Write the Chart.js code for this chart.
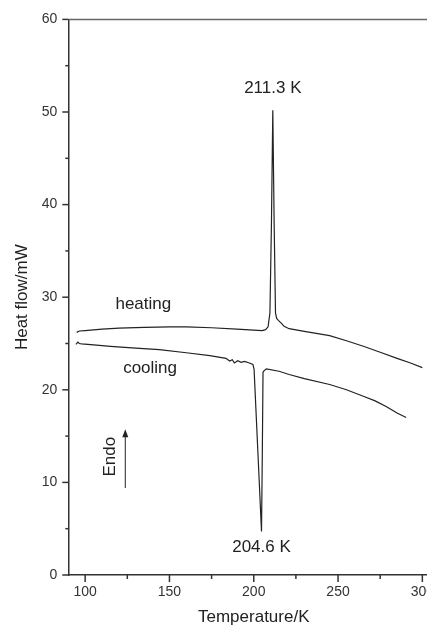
<!DOCTYPE html>
<html>
<head>
<meta charset="utf-8">
<script src="https://cdn.jsdelivr.net/npm/chart.js@4.4.1/dist/chart.umd.min.js"></script>
<style>
  html, body { margin: 0; padding: 0; background: #fff; overflow: hidden; }
</style>
</head>
<body>
<canvas id="dscChart" width="460" height="626"></canvas>
<script>
// DSC scans: heat flow (mW) vs temperature (K)
const heatingT = [95.0, 96.5, 100, 110, 120, 135, 150, 160, 175, 190, 200, 205, 207, 208.5, 209.6, 210.5, 211.3, 212.1, 212.9, 213.6, 214.6, 216.3, 218, 221, 230, 245, 255, 265, 275, 285, 293, 300];
const heatingFlow = [26.2, 26.35, 26.4, 26.55, 26.65, 26.75, 26.8, 26.8, 26.7, 26.55, 26.45, 26.4, 26.5, 26.8, 28.3, 38, 50.2, 38, 28.3, 27.7, 27.5, 27.2, 26.85, 26.6, 26.3, 25.85, 25.3, 24.7, 24.05, 23.4, 22.9, 22.4];

const coolingT = [94.5, 95.7, 96.5, 98, 105, 115, 130, 144, 160, 174, 183.5, 185.7, 187.3, 188.5, 190.5, 192.5, 194.5, 197.4, 199.5, 200.2, 202.4, 204.6, 205.1, 205.5, 206.3, 207.5, 215, 221, 230, 245, 255, 265, 272, 278.5, 285, 290.4];
const coolingFlow = [24.9, 25.15, 25.0, 24.95, 24.85, 24.7, 24.5, 24.33, 24.0, 23.7, 23.4, 23.1, 23.25, 22.9, 23.15, 22.97, 23.07, 22.9, 22.75, 22.2, 13.5, 4.7, 13.5, 21.9, 22.1, 22.25, 22.0, 21.65, 21.2, 20.57, 20.0, 19.3, 18.8, 18.2, 17.5, 17.0];

const tempTicks = [100, 150, 200, 250, 300];
const tempMinorTicks = [125, 175, 225, 275];
const flowTicks = [0, 10, 20, 30, 40, 50, 60];
const flowMinorTicks = [5, 15, 25, 35, 45, 55];

const FONT = '"Liberation Sans", Arial, sans-serif';

function toPoints(xs, ys) {
  return xs.map((v, i) => ({ x: v, y: ys[i] }));
}

// extremum of a scan -> its temperature
function peakOf(xs, ys, cmp) {
  let k = 0;
  ys.forEach((v, i) => { if (cmp(v, ys[k])) k = i; });
  return { t: xs[k], v: ys[k] };
}

const heatPeak = peakOf(heatingT, heatingFlow, (a, b) => a > b);
const coolPeak = peakOf(coolingT, coolingFlow, (a, b) => a < b);

const dscDecor = {
  id: 'dscDecor',
  afterDraw(chart) {
    const { ctx, chartArea: a, scales: { x, y } } = chart;
    ctx.save();

    // top frame
    ctx.strokeStyle = '#666';
    ctx.lineWidth = 1.5;
    ctx.beginPath();
    ctx.moveTo(a.left, a.top);
    ctx.lineTo(a.right, a.top);
    ctx.stroke();

    // tick marks, outside the axes
    ctx.strokeStyle = '#333';
    ctx.lineWidth = 1.5;
    const seg = (x1, y1, x2, y2) => {
      ctx.beginPath(); ctx.moveTo(x1, y1); ctx.lineTo(x2, y2); ctx.stroke();
    };
    tempTicks.forEach(v => { const px = x.getPixelForValue(v); seg(px, a.bottom, px, a.bottom + 7); });
    tempMinorTicks.forEach(v => { const px = x.getPixelForValue(v); seg(px, a.bottom, px, a.bottom + 4); });
    flowTicks.forEach(v => { const py = y.getPixelForValue(v); seg(a.left - 6, py, a.left, py); });
    flowMinorTicks.forEach(v => { const py = y.getPixelForValue(v); seg(a.left - 3, py, a.left, py); });

    // curve labels
    ctx.fillStyle = '#222';
    ctx.font = '17px ' + FONT;
    ctx.textAlign = 'center';
    ctx.textBaseline = 'middle';
    ctx.fillText('heating', x.getPixelForValue(134.5), y.getPixelForValue(29.2));
    ctx.fillText('cooling', x.getPixelForValue(138.5), y.getPixelForValue(22.35));
    ctx.fillText(heatPeak.t.toFixed(1) + ' K', x.getPixelForValue(heatPeak.t), y.getPixelForValue(52.6));
    ctx.fillText(coolPeak.t.toFixed(1) + ' K', x.getPixelForValue(coolPeak.t), y.getPixelForValue(3.0));

    // "Endo" with upward arrow
    ctx.save();
    ctx.translate(x.getPixelForValue(114.8), y.getPixelForValue(12.77));
    ctx.rotate(-Math.PI / 2);
    ctx.fillText('Endo', 0, 0);
    ctx.restore();

    const ax = x.getPixelForValue(123.8);
    const yTail = y.getPixelForValue(9.4);
    const yTip = y.getPixelForValue(15.75);
    ctx.strokeStyle = '#222';
    ctx.lineWidth = 1;
    seg(ax, yTail, ax, yTip + 6);
    ctx.beginPath();
    ctx.moveTo(ax, yTip);
    ctx.lineTo(ax - 3, yTip + 8);
    ctx.lineTo(ax + 3, yTip + 8);
    ctx.closePath();
    ctx.fill();

    ctx.restore();
  }
};

new Chart(document.getElementById('dscChart').getContext('2d'), {
  type: 'scatter',
  data: {
    datasets: [
      {
        label: 'heating',
        data: toPoints(heatingT, heatingFlow),
        showLine: true,
        borderColor: '#222',
        borderWidth: 1.2,
        pointRadius: 0,
        tension: 0
      },
      {
        label: 'cooling',
        data: toPoints(coolingT, coolingFlow),
        showLine: true,
        borderColor: '#222',
        borderWidth: 1.2,
        pointRadius: 0,
        tension: 0
      }
    ]
  },
  options: {
    responsive: false,
    animation: false,
    layout: { padding: { left: 0, right: 20.8, top: 16, bottom: 0 } },
    plugins: { legend: { display: false }, tooltip: { enabled: false } },
    scales: {
      x: {
        type: 'linear',
        min: 90,
        max: 310,
        afterBuildTicks: s => { s.ticks = tempTicks.map(v => ({ value: v })); },
        afterFit: s => { s.height = 51; },
        grid: { display: false, drawTicks: false },
        border: { display: true, color: '#333', width: 1.5 },
        ticks: { color: '#333', font: { family: FONT, size: 14 }, padding: 9, maxRotation: 0 },
        title: {
          display: true,
          text: 'Temperature/K',
          color: '#222',
          font: { family: FONT, size: 17, lineHeight: 1 },
          padding: { top: 0, bottom: 0 }
        }
      },
      y: {
        min: 0,
        max: 60,
        afterBuildTicks: s => { s.ticks = flowTicks.map(v => ({ value: v })); },
        afterFit: s => { s.width = 68.3; },
        grid: { display: false, drawTicks: false },
        border: { display: true, color: '#333', width: 1.5 },
        ticks: { color: '#333', font: { family: FONT, size: 14 }, padding: 11 },
        title: {
          display: true,
          text: 'Heat flow/mW',
          color: '#222',
          font: { family: FONT, size: 17, lineHeight: 1 },
          padding: { top: 14, bottom: 0 }
        }
      }
    }
  },
  plugins: [dscDecor]
});
</script>
</body>
</html>
